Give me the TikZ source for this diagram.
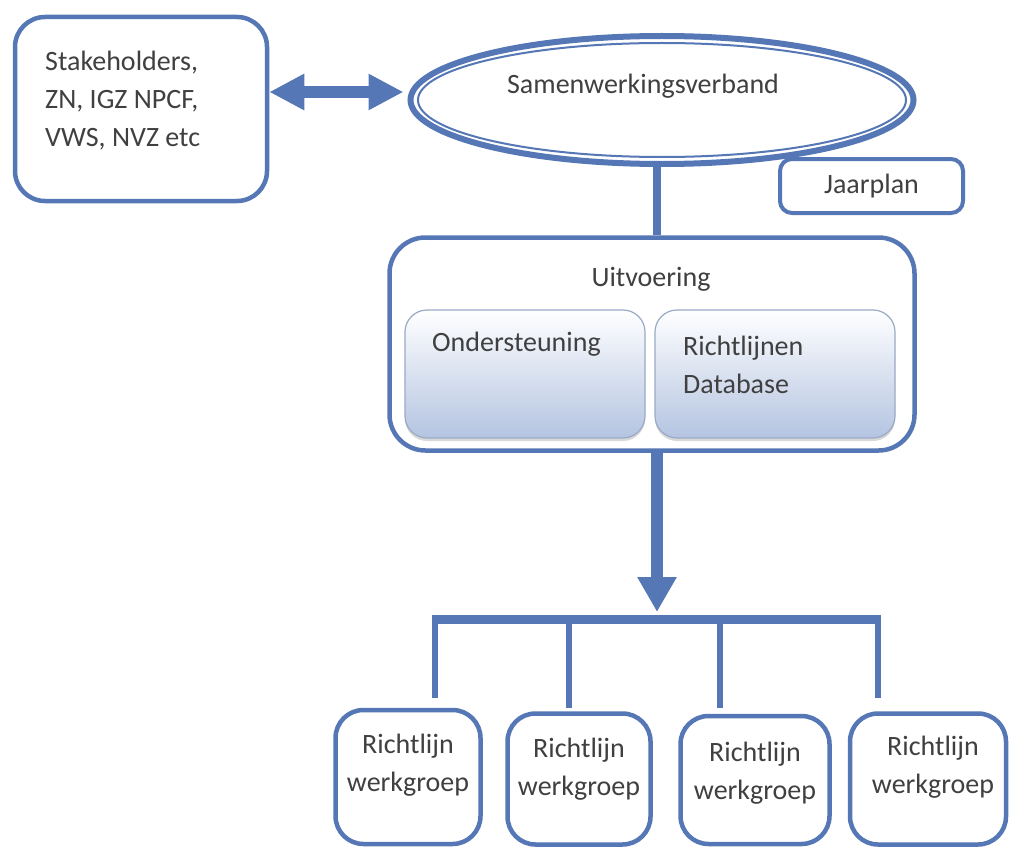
\documentclass[tikz,border=0pt]{standalone}
\usepackage{fontspec}
\setmainfont{Carlito}
\usetikzlibrary{arrows.meta,shadows,shapes.geometric}
\definecolor{lineblue}{RGB}{86,119,181}
\definecolor{txt}{RGB}{64,64,64}
\definecolor{subfill}{RGB}{180,196,225}
\definecolor{subborder}{RGB}{155,170,198}
\begin{document}
\begin{tikzpicture}[x=1pt,y=-1pt,
  every node/.style={font=\fontsize{28}{38}\selectfont, text=txt, inner sep=0pt},
  box/.style={draw=lineblue, line width=4.5pt, rounded corners=#1, fill=white},
  box/.default=26pt,
  sub/.style={draw=subborder, line width=1.2pt, rounded corners=22pt,
    top color=white, bottom color=subfill,
    drop shadow={shadow xshift=0pt, shadow yshift=-3pt, opacity=0.3},
    minimum width=240pt, minimum height=128pt},
  conn/.style={draw=lineblue, line width=#1},
  conn/.default=6pt,
  bigarrow/.style={draw=lineblue, fill=lineblue, line width=12pt}
]
\useasboundingbox (0,0) rectangle (1011,848);
\fill[white] (0,0) rectangle (1011,848);

% Stakeholders
\node[box=30pt, minimum width=252pt, minimum height=184pt] (stake) at (141,109) {};
\node[anchor=north west, align=left] (staketxt) at (45,51) {Stakeholders,\\ZN, IGZ NPCF,\\VWS, NVZ etc};

% Samenwerkingsverband ellipse
\node[ellipse, draw=lineblue, line width=6pt, fill=white,
      minimum width=503pt, minimum height=128pt] (sam) at (662,100) {};
\draw[lineblue, line width=2pt] (sam.center) ellipse [x radius=244pt, y radius=57pt];
\node (samtxt) at (643,86) {Samenwerkingsverband};

% double arrow
\draw[bigarrow, {Triangle[length=35pt,width=34pt]}-{Triangle[length=35pt,width=34pt]},
      shorten >=4pt]
  ([yshift=17pt]stake.east) -- ([yshift=8pt]sam.west);

% Uitvoering
\node[box=36pt, minimum width=525pt, minimum height=213pt] (uit) at (652,344) {};
\draw[conn=8pt] (sam.south -| 657,0) -- (uit.north -| 657,0);
\node (uittxt) at (651,279) {Uitvoering};
\node[sub] (ond) at (525,374) {};
\node[anchor=west] (ondtxt) at (432,344) {Ondersteuning};
\node[sub] (rdb) at (775,374) {};
\node[anchor=west, align=left] (rdbtxt) at (683,365) {Richtlijnen\\Database};

% Jaarplan
\node[box=12pt, line width=4pt, minimum width=183pt, minimum height=54pt] (jaar) at (871.5,186) {Jaarplan};

% down arrow and bar
\coordinate (tip) at (657,612);
\draw[bigarrow, -{Triangle[length=35pt,width=37pt]}] (uit.south -| tip) -- (tip);
\coordinate (barL) at (435,619);
\coordinate (barR) at (878,619);
\draw[conn=9pt] (barL) -- (barR);

% working groups
\node[box=28pt, minimum width=145pt, minimum height=134pt] (b1) at (408,777) {};
\node[box=28pt, minimum width=143pt, minimum height=131pt] (b2) at (579,779) {};
\node[box=28pt, minimum width=149pt, minimum height=128pt] (b3) at (755,780) {};
\node[box=28pt, minimum width=156pt, minimum height=131pt] (b4) at (928,779) {};
\node[align=center] (t1) at (408,765) {Richtlijn\\werkgroep};
\node[align=center] (t2) at (579,769) {Richtlijn\\werkgroep};
\node[align=center] (t3) at (755,773) {Richtlijn\\werkgroep};
\node[align=center] (t4) at (933,767) {Richtlijn\\werkgroep};

\coordinate (d1) at (435,698);
\coordinate (d2) at (569,708);
\coordinate (d3) at (720,708);
\coordinate (d4) at (878,698);
\draw[conn] ([yshift=4pt]barL) -- (d1);
\draw[conn] (barL -| d2) -- (d2);
\draw[conn] (barL -| d3) -- (d3);
\draw[conn] ([yshift=4pt]barR) -- (d4);
\end{tikzpicture}
\end{document}
